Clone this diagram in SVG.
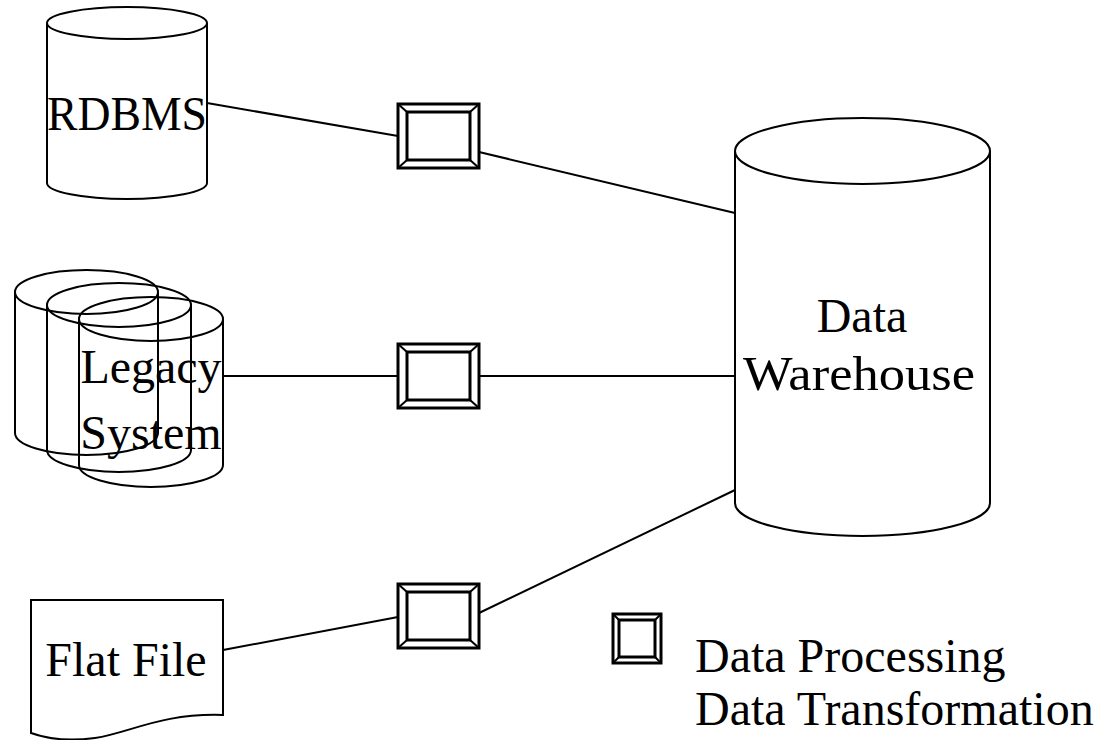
<svg xmlns="http://www.w3.org/2000/svg" width="1110" height="740" viewBox="0 0 1110 740">
  <style>
    .shape { fill: none; stroke: #000; stroke-width: 2; }
    .box { fill: #fff; stroke: #000; stroke-width: 3; }
    .bevel { stroke: #000; stroke-width: 2; }
    .wire { fill: none; stroke: #000; stroke-width: 2; }
    .label { font-family: "Liberation Serif", "Times New Roman", serif; font-size: 48px; fill: #000; }
    .mid { text-anchor: middle; }
  </style>
  <defs>
    <!-- bevelled process box, 81 x 64, origin at top-left -->
    <g id="proc">
      <rect class="box" x="0" y="0" width="81" height="64"/>
      <rect class="box" x="9" y="8" width="63" height="48"/>
      <line class="bevel" x1="0" y1="0" x2="9" y2="8"/>
      <line class="bevel" x1="81" y1="0" x2="72" y2="8"/>
      <line class="bevel" x1="0" y1="64" x2="9" y2="56"/>
      <line class="bevel" x1="81" y1="64" x2="72" y2="56"/>
    </g>
  </defs>

  <rect width="1110" height="740" fill="#fff"/>

  <!-- connectors -->
  <g id="connectors">
    <line class="wire" x1="207" y1="103" x2="398" y2="136"/>
    <line class="wire" x1="479" y1="152" x2="735" y2="213"/>
    <line class="wire" x1="223" y1="376" x2="398" y2="376"/>
    <line class="wire" x1="479" y1="376" x2="735" y2="376"/>
    <line class="wire" x1="223" y1="650" x2="398" y2="617"/>
    <line class="wire" x1="479" y1="613" x2="735" y2="490"/>
  </g>

  <!-- RDBMS source -->
  <g id="rdbms">
    <path class="shape" d="M47,23 V183 A80,16 0 0 0 207,183 V23"/>
    <ellipse class="shape" cx="127" cy="23" rx="80" ry="16"/>
    <text class="label mid" x="127" y="130" textLength="160" lengthAdjust="spacingAndGlyphs">RDBMS</text>
  </g>

  <!-- legacy system: three stacked cylinders -->
  <g id="legacy">
    <path class="shape" d="M15,292 V433 A71.5,22 0 0 0 158,433 V292"/>
    <ellipse class="shape" cx="86.5" cy="292" rx="71.5" ry="22"/>
    <path class="shape" d="M47,305 V450 A72,22 0 0 0 191,450 V305"/>
    <ellipse class="shape" cx="119" cy="305" rx="72" ry="22"/>
    <path class="shape" d="M79,319 V465 A72,22 0 0 0 223,465 V319"/>
    <ellipse class="shape" cx="151" cy="319" rx="72" ry="22"/>
    <text class="label mid" x="151" y="383">Legacy</text>
    <text class="label mid" x="151" y="449">System</text>
  </g>

  <!-- flat file source -->
  <g id="flat-file">
    <path class="shape" d="M31,600 H223 V715 C160,713 130,733 95,738 C65,742 45,738 31,733 Z"/>
    <text class="label mid" x="126" y="676">Flat File</text>
  </g>

  <!-- process boxes -->
  <g id="proc-1"><use href="#proc" x="398" y="104"/></g>
  <g id="proc-2"><use href="#proc" x="398" y="344"/></g>
  <g id="proc-3"><use href="#proc" x="398" y="584"/></g>

  <!-- data warehouse target -->
  <g id="warehouse">
    <path class="shape" d="M735,151 V503 A127.5,33 0 0 0 990,503 V151"/>
    <ellipse class="shape" cx="862.5" cy="151" rx="127.5" ry="33"/>
    <text class="label mid" x="862" y="332">Data</text>
    <text class="label mid" x="859" y="390" textLength="232" lengthAdjust="spacingAndGlyphs">Warehouse</text>
  </g>

  <!-- legend -->
  <g id="legend">
    <rect class="box" x="613" y="614" width="48" height="49"/>
    <rect class="box" x="619" y="620" width="36" height="37"/>
    <line class="bevel" x1="613" y1="614" x2="619" y2="620"/>
    <line class="bevel" x1="661" y1="614" x2="655" y2="620"/>
    <line class="bevel" x1="613" y1="663" x2="619" y2="657"/>
    <line class="bevel" x1="661" y1="663" x2="655" y2="657"/>
    <text class="label" x="695" y="672">Data Processing</text>
    <text class="label" x="695" y="725">Data Transformation</text>
  </g>
</svg>
